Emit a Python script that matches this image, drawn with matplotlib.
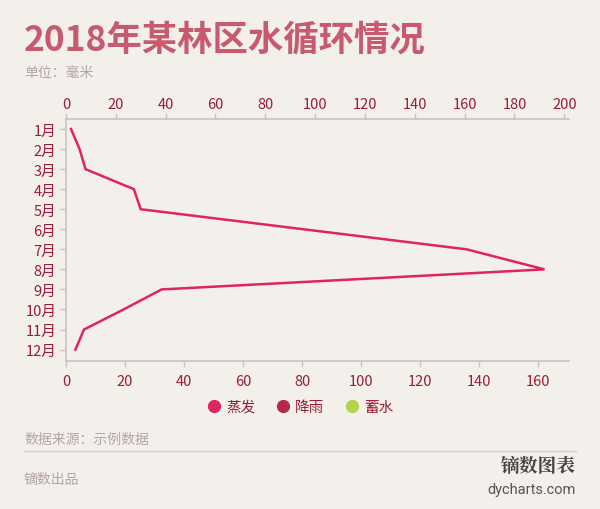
import matplotlib.pyplot as plt
from matplotlib.lines import Line2D

plt.rcParams['font.family'] = ['Noto Sans CJK SC', 'DejaVu Sans']

# data (mm)
months = ['1月', '2月', '3月', '4月', '5月', '6月', '7月', '8月', '9月', '10月', '11月', '12月']
evaporation = [1.7, 4.6, 6.6, 23.0, 25.3, 80.5, 135.7, 162.1, 32.4, 19.5, 6.1, 3.2]
series_names = ['蒸发', '降雨', '蓄水']
series_colors = ['#e0245e', '#b5294a', '#b5d34a']

bg = '#f3f0ec'
tick_color = '#9b1c33'
grey = '#b4a4a6'
axis_grey = '#c8c4c0'

fig = plt.figure(figsize=(6, 5.1), dpi=100, facecolor=bg)
ax = fig.add_axes([66 / 600, 1 - 362 / 510, (569 - 66) / 600, (362 - 120) / 510])
ax.set_facecolor(bg)

y = list(range(len(months)))
ax.plot(evaporation, y, color=series_colors[0], lw=1.8, solid_joinstyle='miter')

ax.set_ylim(11.57, -0.5)
ax.set_yticks(y)
ax.set_yticklabels(months)
ax.set_xlim(0, 170.4)
ax.set_xticks(range(0, 161, 20))

top = ax.twiny()
top.set_xlim(0, 201.9)
top.set_xticks(range(0, 201, 20))

for a in (ax, top):
    for s in a.spines.values():
        s.set_visible(False)
    a.tick_params(colors=axis_grey, labelcolor=tick_color, labelsize=10.5, length=4, width=1)
ax.spines['left'].set_visible(True)
ax.spines['bottom'].set_visible(True)
top.spines['top'].set_visible(True)
for s in (ax.spines['left'], ax.spines['bottom'], top.spines['top']):
    s.set_color(axis_grey)
    s.set_linewidth(1.2)
ax.tick_params(axis='x', pad=5)
ax.tick_params(axis='y', pad=3)
top.tick_params(axis='x', pad=2)

# title and notes
fig.text(24 / 600, 1 - 50 / 510, '2018年某林区水循环情况', fontsize=25.5, fontweight='bold',
         color='#c85a6f', va='baseline')
fig.text(24 / 600, 1 - 73 / 510, '单位：毫米', fontsize=10, color=grey, va='center')

handles = [Line2D([], [], marker='o', ls='none', markersize=8.5, color=c) for c in series_colors]
leg = fig.legend(handles, series_names, loc='center', bbox_to_anchor=(0.5, 1 - 408 / 510),
                 ncol=3, frameon=False, fontsize=10.5, handletextpad=0.33, columnspacing=1.4,
                 handlelength=1.0)
for t in leg.get_texts():
    t.set_color(tick_color)

fig.text(24 / 600, 1 - 440 / 510, '数据来源：示例数据', fontsize=10, color=grey, va='center')
fig.add_artist(Line2D([24 / 600, 576 / 600], [1 - 452 / 510, 1 - 452 / 510],
                      color='#cfcbc7', lw=1))
fig.text(24 / 600, 1 - 480 / 510, '镝数出品', fontsize=10, color=grey, va='center')
fig.text(576 / 600, 1 - 467 / 510, '镝数图表', fontsize=13.5, fontweight='bold',
         color='#444444', ha='right', va='center', family=['Noto Serif CJK SC', 'Noto Sans CJK SC'])
fig.text(576 / 600, 1 - 490 / 510, 'dycharts.com', fontsize=10.5, color='#555555',
         ha='right', va='center', family=['Roboto', 'DejaVu Sans'])

fig.savefig('out.png', dpi=100, facecolor=bg)
